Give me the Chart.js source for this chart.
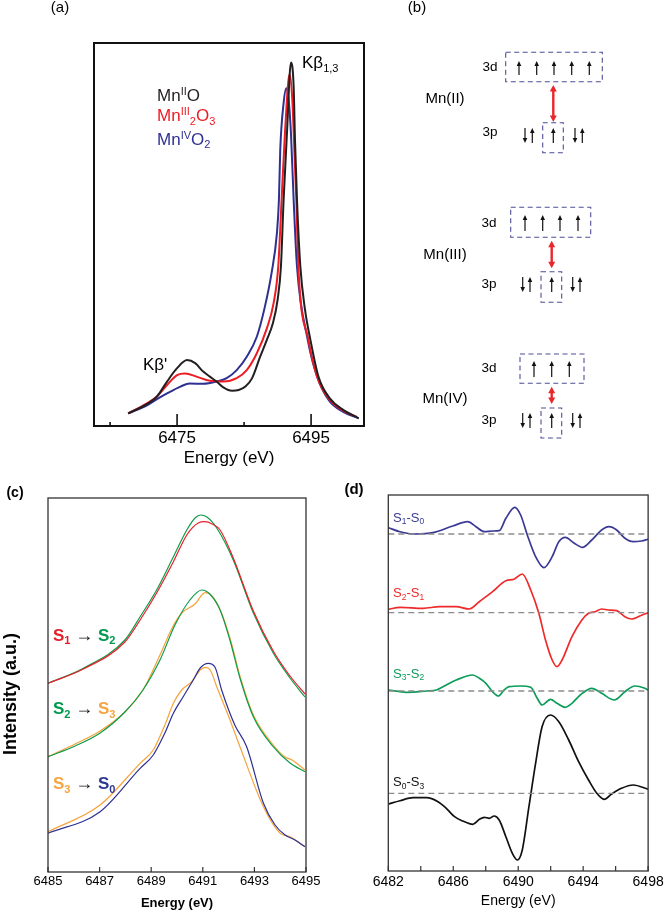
<!DOCTYPE html>
<html><head><meta charset="utf-8">
<script src="https://cdn.jsdelivr.net/npm/chart.js@4/dist/chart.umd.min.js"></script>
<style>
html,body{margin:0;padding:0;background:#fff;}
#wrap{position:relative;width:666px;height:914px;overflow:hidden;font-family:"Liberation Sans",Arial,Helvetica,sans-serif;color:#000;}
canvas{position:absolute;}
.t{position:absolute;white-space:nowrap;line-height:1;}
.c{transform:translate(-50%,-50%);}
sub,sup{font-size:65%;line-height:0;position:relative;vertical-align:baseline;}
sup{top:-0.5em;} sub{bottom:-0.35em;}
.ar{font-size:18px;font-weight:normal;color:#111;}
</style></head><body><div id="wrap">
<canvas id="ca" width="400" height="480" style="left:0;top:0;width:400px;height:480px"></canvas>
<canvas id="cb" width="286" height="460" style="left:380px;top:0;width:286px;height:460px"></canvas>
<canvas id="cc" width="330" height="454" style="left:0;top:460px;width:330px;height:454px"></canvas>
<canvas id="cd" width="336" height="454" style="left:330px;top:460px;width:336px;height:454px"></canvas>

<div class="t c" style="left:60px;top:6px;font-size:15px">(a)</div>
<div class="t c" style="left:417px;top:6px;font-size:15px">(b)</div>
<div class="t" style="left:302px;top:54px;font-size:17px">Kβ<sub>1,3</sub></div>
<div class="t" style="left:157px;top:86.5px;font-size:17px;color:#231f20">Mn<sup>II</sup>O</div>
<div class="t" style="left:157px;top:107px;font-size:17px;color:#ed1c24">Mn<sup>III</sup><sub>2</sub>O<sub>3</sub></div>
<div class="t" style="left:157px;top:130.5px;font-size:17px;color:#2e3192">Mn<sup>IV</sup>O<sub>2</sub></div>
<div class="t" style="left:143px;top:356px;font-size:17px">Kβ'</div>

<div class="t c" style="left:490px;top:67px;font-size:13.5px">3d</div>
<div class="t c" style="left:490px;top:132px;font-size:13.5px">3p</div>
<div class="t c" style="left:445px;top:97px;font-size:15px">Mn(II)</div>
<div class="t c" style="left:489px;top:223px;font-size:13.5px">3d</div>
<div class="t c" style="left:489px;top:284px;font-size:13.5px">3p</div>
<div class="t c" style="left:445px;top:253px;font-size:15px">Mn(III)</div>
<div class="t c" style="left:489px;top:368px;font-size:13.5px">3d</div>
<div class="t c" style="left:489px;top:420px;font-size:13.5px">3p</div>
<div class="t c" style="left:445px;top:397px;font-size:15px">Mn(IV)</div>

<div class="t c" style="left:15px;top:492px;font-size:14px;font-weight:bold">(c)</div>
<div class="t c" style="left:354px;top:488px;font-size:15px;font-weight:bold">(d)</div>
<div class="t c" style="left:10px;top:694px;font-size:18px;font-weight:bold;transform:translate(-50%,-50%) rotate(-90deg)">Intensity (a.u.)</div>
<div class="t" style="left:53px;top:625.5px;font-size:17px;font-weight:bold"><span style="color:#e31e26">S<sub>1</sub></span> <span class="ar">→</span> <span style="color:#009a4e">S<sub>2</sub></span></div>
<div class="t" style="left:53px;top:699px;font-size:17px;font-weight:bold"><span style="color:#009a4e">S<sub>2</sub></span> <span class="ar">→</span> <span style="color:#f7a442">S<sub>3</sub></span></div>
<div class="t" style="left:53px;top:774px;font-size:17px;font-weight:bold"><span style="color:#f7a442">S<sub>3</sub></span> <span class="ar">→</span> <span style="color:#2b3990">S<sub>0</sub></span></div>

<div class="t" style="left:393px;top:510.5px;font-size:13px;color:#3a3a96">S<sub>1</sub>-S<sub>0</sub></div>
<div class="t" style="left:393px;top:586px;font-size:13px;color:#ee2a2a">S<sub>2</sub>-S<sub>1</sub></div>
<div class="t" style="left:393px;top:666.5px;font-size:13px;color:#0e9c5a">S<sub>3</sub>-S<sub>2</sub></div>
<div class="t" style="left:393px;top:775px;font-size:13px;color:#111">S<sub>0</sub>-S<sub>3</sub></div>
</div>
<script>
// ---------------- Panel (a): Mn Kβ emission spectra ----------------
const energyMnO   = [6467.7,6470.5,6472.0,6473.5,6475.0,6476.5,6477.7,6478.9,6479.9,6480.9,6481.9,6483.2,6484.2,6485.2,6486.2,6487.4,6488.4,6489.3,6490.0,6490.5,6490.9,6491.4,6492.0,6492.4,6492.6,6492.9,6493.4,6494.1,6494.9,6496.1,6497.8,6499.8,6502.1];
const intensityMnO= [3.3,5.7,7.7,11.6,15.1,17.2,16.4,14.2,12.9,11.6,10.1,9.2,9.4,10.3,12.5,18.1,22.5,26.8,32.9,41.6,59.0,76.4,94.9,88.6,74.7,59.0,41.6,30.3,22.5,12.9,7.2,4.2,2.0];
const energyMn2O3   = [6467.7,6470.5,6472.0,6473.5,6475.0,6476.2,6477.9,6479.9,6481.9,6483.9,6485.4,6486.9,6488.4,6489.4,6490.1,6490.6,6491.1,6491.8,6492.2,6492.6,6492.8,6493.1,6494.6,6495.9,6497.8,6499.8,6501.8];
const intensityMn2O3= [3.3,5.9,7.7,10.7,13.3,13.7,12.9,11.8,11.6,12.5,14.6,19.0,25.5,32.0,41.6,59.0,76.4,91.9,85.1,67.7,59.0,41.6,22.5,12.9,6.8,4.0,2.4];
const energyMnO2   = [6467.7,6470.5,6472.0,6473.5,6475.5,6476.9,6478.9,6480.9,6482.4,6483.9,6485.4,6486.9,6488.1,6489.1,6489.9,6490.2,6490.4,6490.9,6491.3,6491.6,6492.0,6492.4,6492.9,6494.5,6495.9,6497.7,6499.8,6502.1];
const intensityMnO2= [3.3,5.4,7.0,8.5,10.3,11.1,11.0,11.6,12.5,14.6,18.1,23.3,31.1,39.9,50.3,59.0,72.1,84.3,88.2,86.0,76.4,59.0,41.6,22.5,12.9,6.6,3.7,2.0];
const ticksA = [6465,6475,6485,6495];
const labelsA = [6475,6495];

// ---------------- Panel (c): Kβ spectra for S-state transitions ----------------
const eTopS2 = [6485.00,6486.37,6487.98,6488.57,6489.21,6489.86,6490.38,6490.70,6490.92,6491.16,6491.54,6492.18,6492.96,6493.73,6494.38,6494.96];
const iTopS2 = [188.7,203.7,232,255.3,282,315.3,342,354,357,355,344,312,259,219,194,175];
const eTopS1 = [6485.00,6486.37,6487.98,6488.57,6489.21,6489.86,6490.38,6490.82,6491.09,6491.36,6491.67,6492.18,6492.96,6493.73,6494.38,6494.96];
const iTopS1 = [188.7,203,230,252,279,310.3,337,349,350.3,348,342,314,261,221,196,178];
const eMidS2 = [6485.00,6486.05,6487.02,6487.98,6488.68,6489.34,6489.92,6490.50,6490.96,6491.27,6491.67,6492.05,6492.44,6492.96,6493.73,6494.38,6494.96];
const iMidS2 = [115.3,126,139,160,182,212,247,272,282,278,262,232,194,155.3,125.3,109,100.3];
const eMidS3 = [6485.00,6486.05,6487.02,6487.98,6488.68,6489.34,6489.81,6490.19,6490.70,6491.09,6491.36,6491.74,6492.13,6492.44,6492.96,6493.73,6494.19,6494.46,6494.96];
const iMidS3 = [115.3,128,141,160,182,217,244,259,268,279.3,276,258,227,196,157,127,115,112,102];
const eBotS3 = [6485.00,6487.02,6488.57,6489.08,6489.53,6489.86,6490.18,6490.57,6490.90,6491.09,6491.29,6491.54,6491.98,6492.44,6493.35,6494.00,6494.38,6494.96];
const iBotS3 = [40.3,67,108.7,122,147,168.7,182,190.3,202,204.7,202,185.3,157,125.3,65.3,38.7,35.3,25.3];
const eBotS0 = [6485.00,6487.02,6488.57,6489.08,6489.53,6489.86,6490.24,6490.63,6490.90,6491.21,6491.47,6491.73,6492.24,6492.70,6493.35,6493.80,6494.19,6494.57,6494.96];
const iBotS0 = [38.7,60.3,103.7,117,139,158.7,175.3,192,204,208.7,205,182,147,125.3,68.7,47,37,32,25.3];
const ticksC = [6485,6487,6489,6491,6493,6495];

// ---------------- Panel (d): difference spectra ----------------
const eS1S0 = [6482.00,6482.72,6483.63,6484.75,6485.97,6486.89,6487.40,6487.91,6488.42,6488.83,6489.24,6489.79,6490.15,6490.56,6491.07,6491.58,6492.09,6492.50,6492.90,6493.41,6493.96,6494.53,6495.14,6495.59,6496.06,6496.57,6497.08,6497.59,6498.00];
const dS1S0 = [6.3,2.3,0,1.3,8,12.3,7.3,2.3,3,3.3,15.7,26.7,19,-1,-22.7,-33.7,-22.7,-7.7,-3.3,-8.7,-13.3,-6,4,7.3,4,-4.3,-7.7,-7,-5.3];
const eS2S1 = [6482.00,6482.72,6484.14,6485.16,6486.18,6486.99,6487.60,6488.42,6489.24,6489.74,6490.25,6490.77,6491.27,6491.68,6492.09,6492.39,6492.70,6493.31,6493.92,6494.33,6494.74,6495.14,6495.55,6496.06,6496.57,6496.98,6497.49,6498.00];
const dS2S1 = [3.4,5.4,4.4,6,6,3.7,11,21,32,33.4,38.7,22.7,-0.6,-27.3,-47.3,-54,-47.3,-24,-7.3,-0.6,1,3.7,2.7,2,-4,-6.3,-3.3,0];
const eS3S2 = [6482.00,6483.12,6484.35,6484.96,6485.57,6486.18,6487.20,6487.61,6488.01,6488.42,6488.78,6489.13,6489.44,6490.15,6490.77,6491.17,6491.47,6491.99,6492.39,6492.90,6493.31,6493.82,6494.53,6495.14,6495.92,6496.57,6497.18,6497.80,6498.00];
const dS3S2 = [1,-1.3,0,1,6,11,16,12.7,7.7,-0.7,-5,1,4.3,5,3.7,-7.3,-14,-8.3,-12.3,-16.3,-12.3,-4,2.7,-2.3,-9,-0.7,5,2.7,1];
const eS0S3 = [6482.00,6482.72,6483.53,6484.35,6485.06,6485.57,6486.08,6486.58,6487.20,6487.61,6487.91,6488.22,6488.52,6488.83,6489.24,6489.64,6489.95,6490.25,6490.66,6491.07,6491.47,6491.99,6492.50,6493.11,6493.72,6494.33,6494.84,6495.29,6495.75,6496.36,6497.08,6498.00];
const dS0S3 = [-10.7,-7.4,-4.4,-4.4,-8.4,-15,-23.4,-27.7,-31,-26,-24,-25,-22.7,-26.7,-43.4,-60,-66.7,-56.7,-13.4,30,66.6,78.3,71.6,53.3,31.6,13.3,0,-6,-0.7,5,8.3,4];
const offsetsD = {S1S0:337, S2S1:258.3, S3S2:180, S0S3:77.7};
const ticksD = [6482,6484,6486,6488,6490,6492,6494,6496,6498];
const labelsD = [6482,6486,6490,6494,6498];

// ---------------- helpers ----------------
const FONT = '"Liberation Sans", Arial, Helvetica, sans-serif';
const xy = (xs, ys, off = 0) => xs.map((x, i) => ({x, y: ys[i] + off}));
const line = (xs, ys, color, w, off = 0) => ({data: xy(xs, ys, off), borderColor: color, borderWidth: w, showLine: true, pointRadius: 0, fill: false, cubicInterpolationMode: 'monotone'});
const dashed = (x0, x1, y) => ({data: [{x: x0, y}, {x: x1, y}], borderColor: '#8c8c8c', borderWidth: 1.3, borderDash: [6, 4], showLine: true, pointRadius: 0, fill: false});

const framePlugin = {
  id: 'frame',
  afterDatasetsDraw(chart, args, o) {
    const {ctx, chartArea: a, scales} = chart;
    ctx.save();
    ctx.strokeStyle = o.color; ctx.lineWidth = o.width;
    ctx.strokeRect(a.left, a.top, a.right - a.left, a.bottom - a.top);
    ctx.lineWidth = o.tickWidth;
    (o.ticks || []).forEach(t => {
      const x = scales.x.getPixelForValue(t.v);
      ctx.beginPath(); ctx.moveTo(x, a.bottom); ctx.lineTo(x, a.bottom - t.len); ctx.stroke();
    });
    ctx.restore();
  }
};

function makeChart(id, cfg) {
  return new Chart(document.getElementById(id), {
    type: 'scatter',
    data: {datasets: cfg.datasets},
    plugins: [framePlugin],
    options: {
      responsive: false, animation: false, devicePixelRatio: 1,
      layout: {padding: cfg.padding},
      plugins: {legend: {display: false}, tooltip: {enabled: false},
        frame: {color: cfg.frameColor, width: cfg.frameWidth, tickWidth: cfg.tickWidth, ticks: cfg.tickMarks}},
      scales: {
        x: {type: 'linear', min: cfg.xmin, max: cfg.xmax,
          afterBuildTicks: s => { s.ticks = cfg.tickVals.map(v => ({value: v})); },
          afterFit: s => { s.height = cfg.axisH; },
          grid: {display: false, drawTicks: false, tickLength: 0}, border: {display: false},
          ticks: {autoSkip: false, maxRotation: 0, minRotation: 0, padding: cfg.tickPad, color: '#000',
            font: {family: FONT, size: cfg.tickSize},
            callback: v => cfg.tickLabels.includes(v) ? String(v) : ''},
          title: {display: true, text: 'Energy (eV)', color: '#000',
            font: {family: FONT, size: cfg.titleSize, weight: cfg.titleWeight},
            padding: {top: 0, bottom: cfg.titlePadB}}
        },
        y: {type: 'linear', display: false, min: cfg.ymin, max: cfg.ymax}
      }
    }
  });
}

// (a)
makeChart('ca', {
  datasets: [
    line(energyMnO, intensityMnO, '#231f20', 2),
    line(energyMn2O3, intensityMn2O3, '#ed1c24', 2),
    line(energyMnO2, intensityMnO2, '#2e3192', 2)
  ],
  padding: {left: 94, right: 36, top: 43, bottom: 0},
  xmin: 6462.6, xmax: 6502.9, ymin: 0, ymax: 100,
  tickVals: ticksA, tickLabels: labelsA, axisH: 54, tickPad: 2, tickSize: 17,
  titleSize: 17, titleWeight: 'normal', titlePadB: 11.5,
  frameColor: '#111', frameWidth: 2, tickWidth: 1.6,
  tickMarks: ticksA.map(v => ({v, len: labelsA.includes(v) ? 12 : 4}))
});

// (c)
makeChart('cc', {
  datasets: [
    line(eTopS1, iTopS1, '#e8202a', 1.2),
    line(eTopS2, iTopS2, '#0f9b4b', 1.2),
    line(eMidS2, iMidS2, '#0f9b4b', 1.2),
    line(eMidS3, iMidS3, '#f6a33a', 1.2),
    line(eBotS0, iBotS0, '#2e3192', 1.2),
    line(eBotS3, iBotS3, '#f6a33a', 1.2)
  ],
  padding: {left: 48, right: 24, top: 38, bottom: 0},
  xmin: 6485, xmax: 6495, ymin: 0, ymax: 374,
  tickVals: ticksC, tickLabels: ticksC, axisH: 42, tickPad: 2, tickSize: 13,
  titleSize: 13, titleWeight: 'bold', titlePadB: 3,
  frameColor: '#333', frameWidth: 1.3, tickWidth: 1.2,
  tickMarks: ticksC.map(v => ({v, len: 5}))
});

// (d)
makeChart('cd', {
  datasets: [
    dashed(6482, 6498, offsetsD.S1S0),
    dashed(6482, 6498, offsetsD.S2S1),
    dashed(6482, 6498, offsetsD.S3S2),
    dashed(6482, 6498, offsetsD.S0S3),
    line(eS1S0, dS1S0, '#3a3a96', 1.7, offsetsD.S1S0),
    line(eS2S1, dS2S1, '#ee2a2a', 1.7, offsetsD.S2S1),
    line(eS3S2, dS3S2, '#0e9c5a', 1.7, offsetsD.S3S2),
    line(eS0S3, dS0S3, '#111111', 1.7, offsetsD.S0S3)
  ],
  padding: {left: 58.3, right: 15.3, top: 35, bottom: 0},
  xmin: 6482, xmax: 6498, ymin: 0, ymax: 376,
  tickVals: ticksD, tickLabels: labelsD, axisH: 43, tickPad: 2.3, tickSize: 14,
  titleSize: 14, titleWeight: 'normal', titlePadB: 4.6,
  frameColor: '#333', frameWidth: 1.3, tickWidth: 1.2,
  tickMarks: ticksD.map(v => ({v, len: 5}))
});

// (b) energy-level schematic (drawn on a Chart.js canvas by a plugin)
const schematicPlugin = {
  id: 'schematic',
  afterDraw(chart) {
    const ctx = chart.ctx;
    ctx.save();
    const box = (x1, y1, x2, y2) => {
      ctx.strokeStyle = '#4e4e98'; ctx.lineWidth = 1.1; ctx.setLineDash([5, 3.5]);
      ctx.strokeRect(x1, y1, x2 - x1, y2 - y1); ctx.setLineDash([]);
    };
    const spin = (x, yc, up, h) => {
      const y1 = yc - h / 2, y2 = yc + h / 2;
      ctx.strokeStyle = '#111'; ctx.fillStyle = '#111'; ctx.lineWidth = 1.2;
      ctx.beginPath();
      if (up) { ctx.moveTo(x, y2); ctx.lineTo(x, y1 + 4); } else { ctx.moveTo(x, y1); ctx.lineTo(x, y2 - 4); }
      ctx.stroke();
      ctx.beginPath();
      if (up) { ctx.moveTo(x, y1); ctx.lineTo(x - 2.3, y1 + 5); ctx.lineTo(x + 2.3, y1 + 5); }
      else { ctx.moveTo(x, y2); ctx.lineTo(x - 2.3, y2 - 5); ctx.lineTo(x + 2.3, y2 - 5); }
      ctx.closePath(); ctx.fill();
    };
    const red = (x, y1, y2) => {
      ctx.strokeStyle = '#e8262b'; ctx.fillStyle = '#e8262b'; ctx.lineWidth = 2.4;
      ctx.beginPath(); ctx.moveTo(x, y1 + 5); ctx.lineTo(x, y2 - 5); ctx.stroke();
      ctx.beginPath(); ctx.moveTo(x, y1); ctx.lineTo(x - 3.5, y1 + 6.5); ctx.lineTo(x + 3.5, y1 + 6.5); ctx.closePath(); ctx.fill();
      ctx.beginPath(); ctx.moveTo(x, y2); ctx.lineTo(x - 3.5, y2 - 6.5); ctx.lineTo(x + 3.5, y2 - 6.5); ctx.closePath(); ctx.fill();
    };
    const p3 = (xs, yc) => {
      spin(xs[0], yc, false, 15); spin(xs[1], yc, true, 15);
      spin(xs[2], yc, true, 15);
      spin(xs[3], yc, false, 15); spin(xs[4], yc, true, 15);
    };
    // Mn(II)
    box(125.7, 52.3, 222.3, 81.7);
    [139, 156.7, 174, 191.7, 209.3].forEach(x => spin(x, 68, true, 14));
    red(173.3, 85, 122);
    p3([145, 152.3, 173.3, 195, 202.3], 135.5);
    box(162.7, 122.7, 183.3, 152.7);
    // Mn(III)
    box(130.7, 207.3, 210.7, 237.3);
    [145, 162.7, 180, 198].forEach(x => spin(x, 223, true, 16));
    red(171.7, 240.7, 268.3);
    p3([142.7, 150, 171.7, 192.7, 200], 284.5);
    box(161, 271.7, 181.7, 302.3);
    // Mn(IV)
    box(140, 354, 204, 383.3);
    [154, 171.7, 189.3].forEach(x => spin(x, 369, true, 16));
    red(171.7, 386.7, 404);
    p3([142.7, 150, 171.7, 192.7, 200], 420.5);
    box(161, 408, 181.7, 438);
    ctx.restore();
  }
};
new Chart(document.getElementById('cb'), {
  type: 'scatter', data: {datasets: []}, plugins: [schematicPlugin],
  options: {responsive: false, animation: false, devicePixelRatio: 1,
    plugins: {legend: {display: false}, tooltip: {enabled: false}},
    scales: {x: {display: false}, y: {display: false}}}
});
</script>
</body></html>
